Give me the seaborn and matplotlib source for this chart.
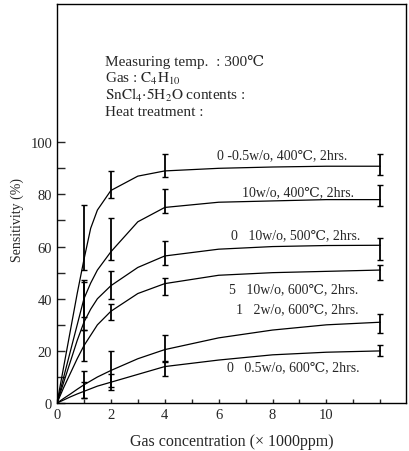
import matplotlib
matplotlib.use("Agg")
import matplotlib.pyplot as plt
import seaborn as sns
import numpy as np
import pandas as pd

# ---- data ----
curve_x = [0, 0.25, 0.5, 0.75, 1, 1.25, 1.5, 2, 3, 4, 6, 8, 10, 12]
c1 = [0, 14, 28, 42, 55, 67, 74, 81.5, 87, 89, 90, 90.5, 90.8, 90.8]
c2 = [0, 10, 20, 30, 40, 46, 51, 58, 69.5, 75, 77, 77.5, 78, 78]
c3 = [0, 8, 16, 24, 31, 36, 40, 45, 52, 56.4, 59, 60, 60.4, 60.5]
c4 = [0, 6, 11.5, 17, 22, 26, 30, 35.2, 42, 45.8, 49, 50, 50.5, 51]
c5 = [0, 1.8, 3.5, 5.3, 7, 8.5, 10, 12.5, 17, 20.5, 25, 28, 30, 31]
c6 = [0, 1.2, 2.4, 3.5, 4.5, 5.5, 6.5, 8, 11, 14, 16.5, 18.5, 19.5, 20]

meas_x = [1, 2, 4, 12]
v1 = [55, 82, 89, 90.8];   lo1 = [51, 78.5, 86.5, 87.4]; hi1 = [76, 89, 95.4, 95.4]
v2 = [40, 58, 75, 78];     lo2 = [33, 55, 73, 75.7];     hi2 = [47, 71, 82, 83.6]
v3 = [31, 45, 56.4, 60.5]; lo3 = [28, 40, 53, 54.7];     hi3 = [46.5, 50.5, 62.3, 63.4]
v4 = [22, 35.2, 45.8, 51]; lo4 = [16, 31.8, 41.3, 47];   hi4 = [28, 38, 48, 53]
v5 = [7, 12.5, 20.5, 31];  lo5 = [2, 6, 16, 26.7];       hi5 = [12.2, 20, 26, 34]
v6 = [4.5, 8, 14, 20];     lo6 = [2, 5, 10.2, 18.2];     hi6 = [8, 11, 15.9, 22.3]

labels = ["0 -0.5w/o, 400\u2103, 2hrs.",
          "10w/o, 400\u2103, 2hrs.",
          "0   10w/o, 500\u2103, 2hrs.",
          "5   10w/o, 600\u2103, 2hrs.",
          "1   2w/o, 600\u2103, 2hrs.",
          "0   0.5w/o, 600\u2103, 2hrs."]

x_ticks = [0, 2, 4, 6, 8, 10]
y_ticks = [0, 20, 40, 60, 80, 100]

# ---- build tables ----
curves = [c1, c2, c3, c4, c5, c6]
vals = [v1, v2, v3, v4, v5, v6]
los = [lo1, lo2, lo3, lo4, lo5, lo6]
his = [hi1, hi2, hi3, hi4, hi5, hi6]

df = pd.concat([pd.DataFrame({"x": curve_x, "y": c, "series": labels[i]})
                for i, c in enumerate(curves)], ignore_index=True)

sns.set_style("ticks")
plt.rcParams["font.family"] = ["Liberation Serif", "DejaVu Serif"]
plt.rcParams["mathtext.fontset"] = "stix"

fig = plt.figure(figsize=(4.1, 4.52), dpi=100)
ax = fig.add_axes([0.139, 0.106, 0.851, 0.883])

sns.lineplot(data=df, x="x", y="y", units="series", estimator=None,
             color="black", linewidth=0.9, ax=ax, legend=False)

for v, lo, hi in zip(vals, los, his):
    v = np.array(v); lo = np.array(lo); hi = np.array(hi)
    ax.errorbar(meas_x, v, yerr=[v - lo, hi - v], fmt="none", ecolor="black",
                elinewidth=1.3, capsize=2.0, capthick=1.0)

# curve labels (position, text)
lab_pos = [(5.95, 95.4), (6.85, 81), (6.45, 64.7), (6.4, 43.7), (6.65, 36), (6.3, 13.8)]
for (lx, ly), t in zip(lab_pos, labels):
    ax.text(lx, ly, t, fontsize=10, va="center", ha="left")

# condition block
info = ["Measuring temp.  : 300\u2103",
        r"Gas : $\mathrm{C_4H_{10}}$",
        r"$\mathrm{SnCl_4{\cdot}5H_2O}$ contents :",
        "Heat treatment :"]
for i, t in enumerate(info):
    ax.text(1.8, 131 - i * 6.4, t, fontsize=11, va="center", ha="left")

ax.set_xlim(0, 12.95)
ax.set_ylim(0, 153)
ax.set_xticks(x_ticks)
ax.set_xticks(np.arange(0, 13, 1), minor=True)
ax.set_yticks(y_ticks)
ax.set_yticks(np.arange(0, 110, 10), minor=True)
ax.tick_params(which="both", direction="in", length=6, width=1.0, labelsize=10.5,
               top=False, right=False)
ax.tick_params(axis="x", which="both", length=3)
for s in ax.spines.values():
    s.set_linewidth(1.0)
    s.set_color("black")

ax.set_xlabel("Gas concentration (\u00d7 1000ppm)", fontsize=11.5, labelpad=9)
ax.set_ylabel("Sensitivity (%)", fontsize=10, labelpad=2)
ax.yaxis.set_label_coords(-0.095, 0.46)

fig.savefig("out.png", dpi=100)
